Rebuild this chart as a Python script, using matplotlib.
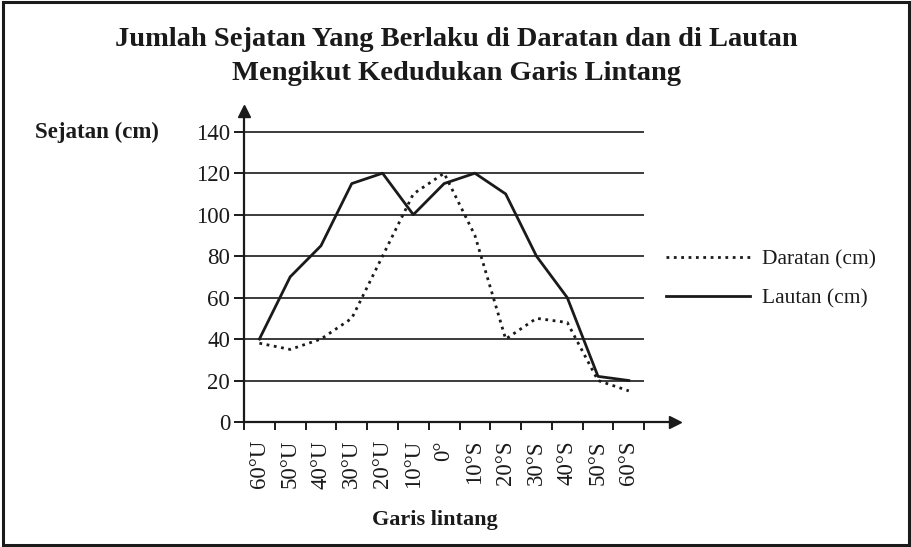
import matplotlib
matplotlib.use("Agg")
import matplotlib.pyplot as plt
from matplotlib.patches import Rectangle

categories = ["60°U", "50°U", "40°U", "30°U", "20°U", "10°U", "0°",
              "10°S", "20°S", "30°S", "40°S", "50°S", "60°S"]
daratan = [38, 35, 40, 50, 80, 110, 120, 90, 40, 50, 48, 20, 15]
lautan = [40, 70, 85, 115, 120, 100, 115, 120, 110, 80, 60, 22, 20]
y_ticks = [0, 20, 40, 60, 80, 100, 120, 140]

plt.rcParams['font.family'] = ['Liberation Serif', 'DejaVu Serif']

W, H = 911, 547
fig = plt.figure(figsize=(W / 100, H / 100), dpi=100)
fig.patch.set_facecolor('white')

# outer frame
fig.add_artist(Rectangle((3 / W, 2 / H), (W - 5) / W, (H - 4) / H,
                         transform=fig.transFigure, fill=False,
                         edgecolor='#1a1a1a', linewidth=2.2))

left_px, right_px = 244, 675
zero_px, top_px = 422, 111
ax = fig.add_axes([left_px / W, (H - zero_px) / H,
                   (right_px - left_px) / W, (zero_px - top_px) / H])
ax.set_xlim(-0.5, 13.5)
ax.set_ylim(0, 150)

x = list(range(len(categories)))
ax.hlines(y_ticks[1:], -0.5, 12.5, colors='#1a1a1a', linewidth=1.2, zorder=1)
l1, = ax.plot(x, daratan, linestyle=':', color='#1a1a1a', linewidth=2.0,
              label='Daratan (cm)', zorder=3)
l2, = ax.plot(x, lautan, linestyle='-', color='#1a1a1a', linewidth=2.0,
              label='Lautan (cm)', zorder=3)

for s in ['top', 'right']:
    ax.spines[s].set_visible(False)
for s in ['left', 'bottom']:
    ax.spines[s].set_linewidth(1.6)
    ax.spines[s].set_color('#1a1a1a')

# arrow heads
ax.plot(1, 0, '>', color='#1a1a1a', markersize=9, transform=ax.get_yaxis_transform(),
        clip_on=False)
ax.plot(0, 1, '^', color='#1a1a1a', markersize=9, transform=ax.transAxes,
        clip_on=False)

ax.set_yticks(y_ticks)
ax.set_yticklabels([str(v) for v in y_ticks], fontsize=16.5)
ax.tick_params(axis='y', direction='out', length=7, width=1.4, pad=3, colors='#1a1a1a')

ax.set_xticks(x)
ax.set_xticklabels(categories, rotation=90, fontsize=16.5, va='top')
ax.tick_params(axis='x', which='major', length=0, pad=13, colors='#1a1a1a')
ax.set_xticks([i - 0.5 for i in range(len(categories) + 1)], minor=True)
ax.tick_params(axis='x', which='minor', direction='out', length=6, width=1.4, colors='#1a1a1a')

fig.text(456 / W, 1 - 40 / H, "Jumlah Sejatan Yang Berlaku di Daratan dan di Lautan",
         ha='center', va='center', fontsize=20.5, fontweight='bold', color='#1a1a1a')
fig.text(456 / W, 1 - 73 / H, "Mengikut Kedudukan Garis Lintang",
         ha='center', va='center', fontsize=20.5, fontweight='bold', color='#1a1a1a')
fig.text(35 / W, 1 - 132 / H, "Sejatan (cm)", ha='left', va='center',
         fontsize=16.5, fontweight='bold', color='#1a1a1a')
fig.text(435 / W, 1 - 520 / H, "Garis lintang", ha='center', va='center',
         fontsize=16, fontweight='bold', color='#1a1a1a')

leg = fig.legend(handles=[l1, l2], loc='center left',
                 bbox_to_anchor=(666 / W, 1 - 279 / H), frameon=False,
                 fontsize=15.5, handlelength=3.9, handletextpad=0.55,
                 labelspacing=0.85, borderpad=0, borderaxespad=0)
for t in leg.get_texts():
    t.set_color('#1a1a1a')

fig.savefig('out.png', dpi=100, facecolor='white')
